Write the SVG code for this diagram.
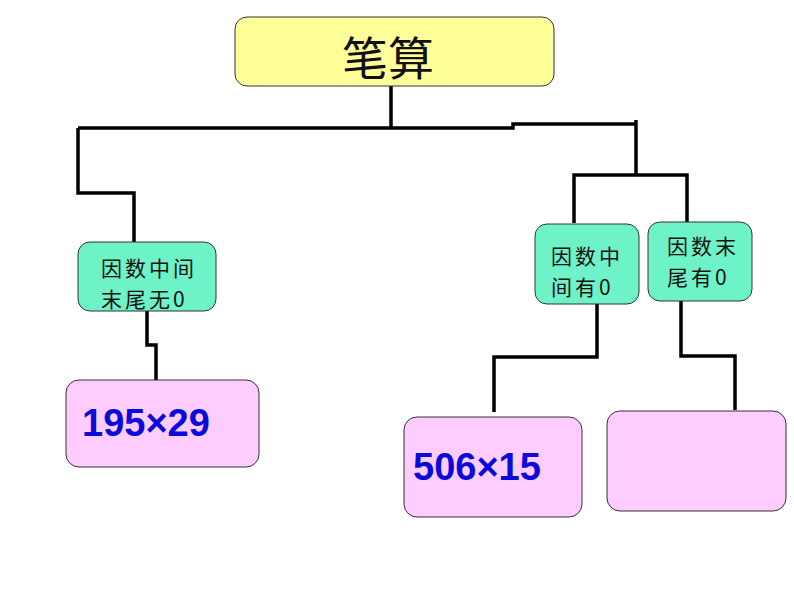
<svg xmlns="http://www.w3.org/2000/svg" width="794" height="596" viewBox="0 0 794 596">
<style>
.top{fill:#FFFF99;stroke:#333;stroke-width:1}
.cat{fill:#6EF3C8;stroke:#333;stroke-width:1}
.ex{fill:#FFCCFF;stroke:#333;stroke-width:1}
.cn{font-family:"Noto Sans CJK SC","Liberation Sans",sans-serif;fill:#111}
.sm{font-size:21px;letter-spacing:3px}
.num{font-family:"Liberation Sans",Arial,sans-serif;font-weight:bold;fill:#0A0ADC;font-size:38px}
.conn path{fill:none;stroke:#000;stroke-width:3.5}
</style>
<rect width="794" height="596" fill="#fff"/>
<g class="conn" id="connectors">
<path d="M391,86 V128"/>
<path d="M78,128 H513 V124 H637"/>
<path d="M636,120 V175"/>
<path d="M78,128 V193 H134 V243"/>
<path d="M574,223 V175 H687 V222"/>
<path d="M147,311 V345 H156 V380"/>
<path d="M597,304 V357 H494 V412"/>
<path d="M681,301 V356 H735 V410"/>
</g>
<g id="root">
<rect class="top" x="235" y="17" width="319" height="69" rx="12"/>
<text class="cn" x="388" y="75" font-size="46" text-anchor="middle">笔算</text>
</g>
<g id="n1">
<rect class="cat" x="78" y="242" width="138" height="69" rx="12"/>
<text class="cn sm" x="101" y="276">因数中间</text>
<text class="cn sm" x="101" y="307">末尾无0</text>
</g>
<g id="n2">
<rect class="cat" x="535" y="224" width="104" height="80" rx="12"/>
<text class="cn sm" x="551" y="264">因数中</text>
<text class="cn sm" x="551" y="295">间有0</text>
</g>
<g id="n3">
<rect class="cat" x="648" y="222" width="104" height="79" rx="12"/>
<text class="cn sm" x="667" y="254">因数末</text>
<text class="cn sm" x="667" y="285">尾有0</text>
</g>
<g id="e1">
<rect class="ex" x="66" y="380" width="193" height="87" rx="13"/>
<text class="num" x="82" y="436">195×29</text>
</g>
<g id="e2">
<rect class="ex" x="404" y="417" width="178" height="100" rx="13"/>
<text class="num" x="413" y="480">506×15</text>
</g>
<g id="e3">
<rect class="ex" x="607" y="411" width="179" height="100" rx="13"/>
</g>
</svg>
